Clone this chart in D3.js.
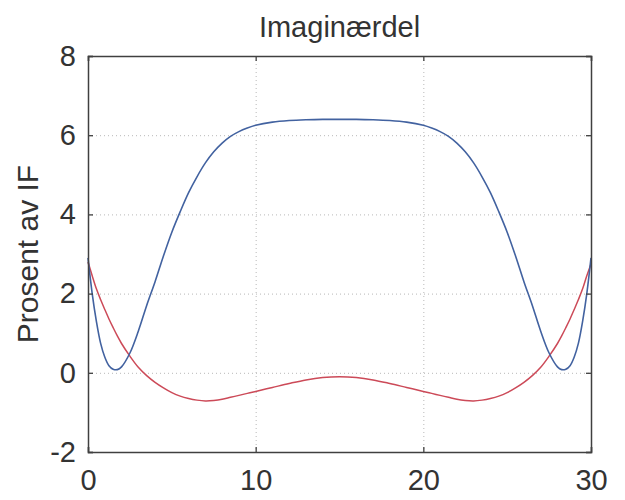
<!DOCTYPE html>
<html lang="no">
<meta charset="utf-8">
<title>Imaginærdel</title>
<style>
  body { margin: 0; background: #fff; }
  svg { font-family: "Liberation Sans", Arial, sans-serif; }
</style>
<body>
<div id="chart"></div>
<script src="https://cdn.jsdelivr.net/npm/d3@7"></script>
<script>
// Data
var xs = [0,0.25,0.5,0.75,1,1.25,1.5,1.75,2,2.5,3,3.5,4,4.5,5,5.5,6,6.5,7,7.5,8,8.5,9,9.5,10,11,12,13,14,15,
  16,17,18,19,20,20.5,21,21.5,22,22.5,23,23.5,24,24.5,25,25.5,26,26.5,27,27.5,28,28.25,28.5,28.75,29,29.25,29.5,29.75,30];
var blueVals = [2.9,2.0,1.3,0.75,0.4,0.18,0.09,0.08,0.15,0.5,1.05,1.7,2.3,2.95,3.55,4.07,4.55,4.95,5.3,5.58,5.8,5.97,6.09,6.18,6.25,6.33,6.37,6.39,6.4,6.4,
  6.4,6.39,6.37,6.33,6.25,6.18,6.09,5.97,5.8,5.58,5.3,4.95,4.55,4.07,3.55,2.95,2.3,1.7,1.05,0.5,0.15,0.08,0.09,0.18,0.4,0.75,1.3,2.0,2.9];
var redVals = [2.8,2.45,2.12,1.85,1.6,1.36,1.14,0.93,0.74,0.42,0.14,-0.07,-0.24,-0.38,-0.5,-0.59,-0.65,-0.69,-0.71,-0.7,-0.67,-0.62,-0.57,-0.52,-0.47,-0.37,-0.27,-0.18,-0.12,-0.1,
  -0.12,-0.18,-0.27,-0.37,-0.47,-0.52,-0.57,-0.62,-0.67,-0.7,-0.71,-0.69,-0.65,-0.59,-0.5,-0.38,-0.24,-0.07,0.14,0.42,0.74,0.93,1.14,1.36,1.6,1.85,2.12,2.45,2.75];
var xTicks = [0, 10, 20, 30];
var yTicks = [-2, 0, 2, 4, 6, 8];

var W = 625, H = 500;
var margin = {left: 88, right: 34, top: 56, bottom: 48};
var w = W - margin.left - margin.right;
var h = H - margin.top - margin.bottom;

var svg = d3.select("#chart").append("svg").attr("width", W).attr("height", H);
var g = svg.append("g").attr("transform", "translate(" + margin.left + "," + margin.top + ")");

var x = d3.scaleLinear().domain([0, 30]).range([0, w]);
var y = d3.scaleLinear().domain([-2, 8]).range([h, 0]);

// dotted grid
g.append("g").attr("class", "grid")
  .call(d3.axisBottom(x).tickValues([10, 20]).tickSize(h).tickFormat(""))
  .call(function(s) { s.select(".domain").remove(); });
g.append("g").attr("class", "grid")
  .call(d3.axisLeft(y).tickValues([0, 2, 4, 6]).tickSize(-w).tickFormat(""))
  .call(function(s) { s.select(".domain").remove(); });
g.selectAll(".grid line").attr("stroke", "#b8b8b8").attr("stroke-dasharray", "1,3");

// curves
var line = d3.line().curve(d3.curveCatmullRom)
  .x(function(d) { return x(d[0]); })
  .y(function(d) { return y(d[1]); });

g.append("path").datum(xs.map(function(v, i) { return [v, redVals[i]]; }))
  .attr("d", line).attr("fill", "none").attr("stroke", "#cc4a58").attr("stroke-width", 1.5);
g.append("path").datum(xs.map(function(v, i) { return [v, blueVals[i]]; }))
  .attr("d", line).attr("fill", "none").attr("stroke", "#4262a0").attr("stroke-width", 1.6);

// axes, ticks pointing inward
var ax = "#404040";
var fmt = function(d) { return String(d); };
g.append("g").attr("transform", "translate(0," + h + ")")
  .call(d3.axisBottom(x).tickValues(xTicks).tickSize(-5).tickPadding(17).tickFormat(fmt));
g.append("g")
  .call(d3.axisLeft(y).tickValues(yTicks).tickSize(-5).tickPadding(12).tickFormat(fmt));
g.append("g").call(d3.axisTop(x).tickValues(xTicks).tickSize(-5).tickFormat(""));
g.append("g").attr("transform", "translate(" + w + ",0)")
  .call(d3.axisRight(y).tickValues(yTicks).tickSize(-5).tickFormat(""));

g.selectAll(".domain").attr("stroke", ax).attr("stroke-width", 1.5);
g.selectAll(".tick line").filter(function() { return this.parentNode.parentNode.getAttribute("class") !== "grid"; })
  .attr("stroke", ax).attr("stroke-width", 1.3);
g.selectAll(".tick text").attr("font-size", 29).attr("fill", "#333")
  .attr("font-family", "'Liberation Sans', Arial, sans-serif");

// title and y label
svg.append("text").attr("x", margin.left + w / 2).attr("y", 37)
  .attr("text-anchor", "middle").attr("font-size", 29).attr("fill", "#333")
  .text("Imaginærdel");
svg.append("text").attr("transform", "translate(38," + (margin.top + h / 2) + ") rotate(-90)")
  .attr("text-anchor", "middle").attr("font-size", 30).attr("fill", "#333")
  .text("Prosent av IF");
</script>
</body>
</html>
